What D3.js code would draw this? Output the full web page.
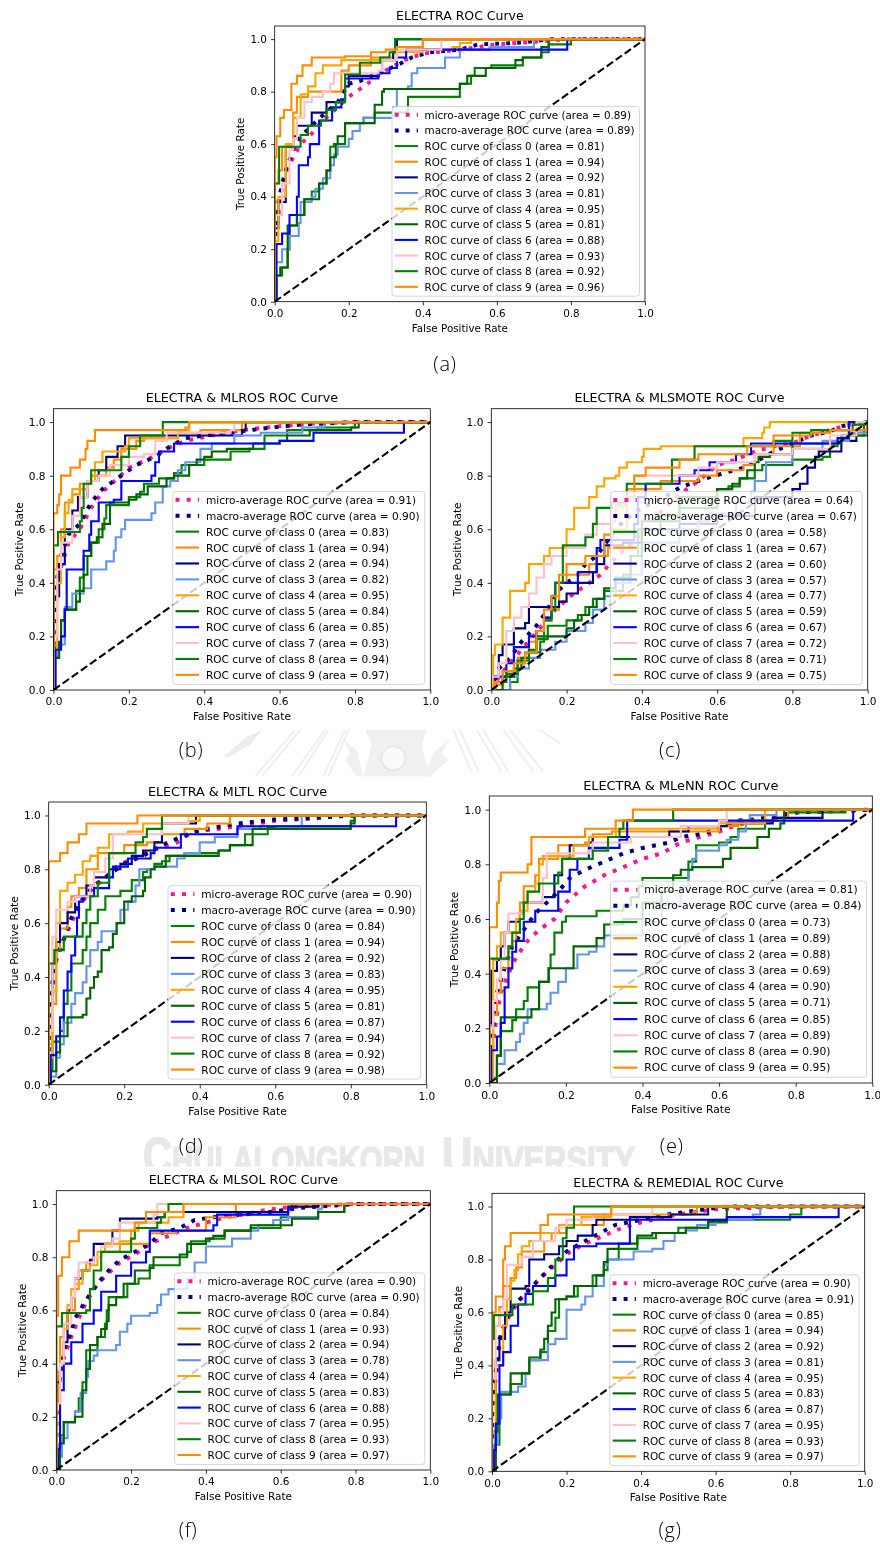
<!DOCTYPE html>
<html><head><meta charset="utf-8">
<script src="https://cdn.jsdelivr.net/npm/d3@7"></script>
<style>html,body{margin:0;padding:0;background:#fff}svg{display:block}</style>
</head><body><div id="c"></div>
<script>
const panelTitles=["ELECTRA ROC Curve","ELECTRA & MLROS ROC Curve","ELECTRA & MLSMOTE ROC Curve","ELECTRA & MLTL ROC Curve","ELECTRA & MLeNN ROC Curve","ELECTRA & MLSOL ROC Curve","ELECTRA & REMEDIAL ROC Curve"];
const panelLabels=["(a)","(b)","(c)","(d)","(e)","(f)","(g)"];
const seriesNames=["micro-average ROC curve","macro-average ROC curve","ROC curve of class 0","ROC curve of class 1","ROC curve of class 2","ROC curve of class 3","ROC curve of class 4","ROC curve of class 5","ROC curve of class 6","ROC curve of class 7","ROC curve of class 8","ROC curve of class 9"];
const seriesColors=["deeppink","navy","green","darkorange","navy","cornflowerblue","orange","darkgreen","blue","pink","green","darkorange"];
const areasA=[.89,.89,.81,.94,.92,.81,.95,.81,.88,.93,.92,.96];
const areasB=[.91,.90,.83,.94,.94,.82,.95,.84,.85,.93,.94,.97];
const areasC=[.64,.67,.58,.67,.60,.57,.77,.59,.67,.72,.71,.75];
const areasD=[.90,.90,.84,.94,.92,.83,.95,.81,.87,.94,.92,.98];
const areasE=[.81,.84,.73,.89,.88,.69,.90,.71,.85,.89,.90,.95];
const areasF=[.90,.90,.84,.93,.94,.78,.94,.83,.88,.95,.93,.97];
const areasG=[.90,.91,.85,.94,.92,.81,.95,.83,.87,.95,.93,.97];
const tickValues=[0,.2,.4,.6,.8,1];

const rocA=[
[[0,.2],[.01,.33],[.02,.44],[.03,.49],[.05,.55],[.07,.6],[.1,.64],[.13,.69],[.17,.74],[.2,.78],[.25,.83],[.3,.88],[.35,.92],[.4,.945],[.5,.96],[.6,.98],[.7,.99],[.8,1]],
[[0,.25],[.01,.38],[.02,.45],[.03,.5],[.05,.58],[.07,.63],[.1,.67],[.13,.71],[.17,.76],[.2,.83],[.23,.84],[.28,.87],[.33,.9],[.37,.93],[.42,.95],[.5,.96],[.55,.98],[.65,.985],[.75,1]],
[[.005,.1],[.02,.13],[.035,.2],[.04,.29],[.06,.33],[.08,.39],[.1,.42],[.12,.45],[.14,.5],[.15,.59],[.16,.6],[.19,.68],[.24,.7],[.27,.72],[.34,.72],[.36,.78],[.5,.78],[.5,.83],[.53,.86],[.54,.89],[.585,.9],[.67,.93],[.72,.95],[.74,.98],[.8,1]],
[[0,.45],[.01,.5],[.02,.59],[.05,.72],[.06,.78],[.09,.8],[.18,.88],[.2,.9],[.26,.93],[.32,.95],[.33,.97],[.4,1]],
[[0,.28],[.01,.38],[.03,.59],[.05,.63],[.06,.67],[.1,.72],[.14,.76],[.18,.77],[.19,.82],[.2,.86],[.28,.87],[.29,.92],[.32,.95],[.33,1]],
[[0,.15],[.02,.2],[.04,.25],[.065,.3],[.07,.38],[.1,.4],[.11,.43],[.13,.47],[.15,.52],[.16,.56],[.17,.59],[.2,.62],[.21,.65],[.23,.68],[.24,.7],[.32,.74],[.33,.81],[.36,.82],[.37,.87],[.385,.89],[.46,.93],[.5,.96],[.58,.97],[.7,1]],
[[0,.23],[.01,.4],[.03,.6],[.05,.7],[.07,.79],[.09,.82],[.11,.87],[.13,.9],[.18,.92],[.33,.95],[.4,.96],[.48,.97],[.5,.985],[.53,1]],
[[0,.1],[.015,.13],[.035,.2],[.035,.29],[.06,.33],[.08,.39],[.11,.39],[.12,.45],[.14,.5],[.15,.55],[.165,.6],[.17,.63],[.19,.68],[.27,.7],[.27,.75],[.29,.8],[.295,.81],[.5,.83],[.52,.86],[.57,.89],[.65,.92],[.67,.93],[.72,.97],[.74,1]],
[[.005,.22],[.02,.26],[.04,.33],[.06,.4],[.065,.52],[.09,.55],[.095,.6],[.12,.69],[.155,.74],[.18,.77],[.19,.85],[.28,.87],[.31,.89],[.33,.93],[.355,.96],[.79,1]],
[[0,.33],[.02,.45],[.04,.58],[.05,.62],[.06,.7],[.08,.76],[.1,.78],[.13,.8],[.15,.83],[.16,.87],[.28,.88],[.29,.92],[.33,.96],[.45,1]],
[[0,.45],[.012,.59],[.07,.635],[.09,.67],[.125,.69],[.14,.73],[.165,.76],[.19,.865],[.23,.91],[.285,.93],[.31,.95],[.325,1]],
[[0,.55],[.005,.63],[.015,.7],[.025,.73],[.045,.83],[.06,.86],[.075,.9],[.1,.93],[.19,.935],[.26,.95],[.3,.96],[.33,.97],[.4,1]]
];
const rocB=[
[[0,.2],[.01,.38],[.02,.46],[.04,.55],[.07,.6],[.1,.68],[.13,.74],[.17,.79],[.2,.83],[.25,.86],[.3,.9],[.35,.93],[.42,.95],[.5,.97],[.6,.985],[.7,.995],[.8,1]],
[[0,.25],[.01,.42],[.02,.5],[.04,.58],[.07,.62],[.1,.7],[.13,.75],[.17,.79],[.22,.84],[.27,.87],[.31,.91],[.35,.94],[.4,.95],[.47,.96],[.55,.975],[.65,.99],[.8,1]],
[[.005,.16],[.02,.26],[.03,.3],[.06,.37],[.07,.42],[.08,.5],[.1,.55],[.12,.6],[.135,.64],[.14,.69],[.2,.72],[.23,.74],[.24,.77],[.28,.79],[.32,.81],[.34,.84],[.4,.86],[.47,.89],[.52,.9],[.56,.95],[.62,.97],[.7,.98],[.8,1]],
[[0,.45],[.01,.5],[.02,.6],[.03,.7],[.05,.73],[.07,.77],[.1,.8],[.14,.83],[.16,.86],[.18,.9],[.22,.93],[.24,.94],[.33,.96],[.39,.97],[.5,1]],
[[0,.35],[.015,.47],[.03,.6],[.05,.67],[.065,.72],[.09,.78],[.12,.82],[.14,.87],[.17,.91],[.19,.95],[.3,.95],[.5,.97],[.51,1]],
[[.005,.12],[.01,.17],[.03,.31],[.05,.36],[.08,.38],[.1,.45],[.14,.48],[.16,.52],[.165,.57],[.18,.6],[.19,.635],[.26,.66],[.27,.7],[.29,.76],[.31,.78],[.33,.82],[.35,.85],[.39,.9],[.42,.92],[.48,.95],[.55,.96],[.66,.98],[.72,1]],
[[0,.15],[.01,.4],[.02,.57],[.03,.66],[.04,.71],[.05,.75],[.09,.78],[.11,.85],[.13,.89],[.19,.91],[.2,.94],[.33,.97],[.36,1]],
[[0,.12],[.015,.18],[.02,.26],[.03,.3],[.06,.33],[.07,.37],[.08,.43],[.09,.5],[.1,.55],[.115,.57],[.13,.62],[.15,.7],[.2,.71],[.22,.73],[.25,.76],[.3,.79],[.32,.8],[.36,.84],[.38,.86],[.4,.87],[.42,.89],[.46,.9],[.53,.92],[.6,.93],[.62,.95],[.68,.97],[.79,.98],[.81,1]],
[[.005,.15],[.02,.2],[.03,.3],[.035,.45],[.08,.52],[.095,.58],[.1,.63],[.12,.7],[.16,.71],[.18,.78],[.26,.8],[.27,.85],[.28,.89],[.32,.92],[.6,.93],[.69,.96],[.93,1]],
[[0,.2],[.01,.45],[.02,.55],[.05,.65],[.07,.72],[.09,.78],[.12,.8],[.15,.84],[.2,.87],[.24,.88],[.27,.93],[.3,.96],[.47,.97],[.48,1]],
[[0,.54],[.012,.59],[.07,.63],[.075,.68],[.08,.77],[.1,.82],[.18,.87],[.2,.91],[.23,.95],[.29,1]],
[[0,.66],[.01,.69],[.015,.73],[.02,.8],[.045,.83],[.07,.86],[.085,.9],[.09,.93],[.11,.97],[.35,.98],[.36,1]]
];
const rocC=[
[[.02,.05],[.05,.1],[.08,.15],[.11,.2],[.14,.25],[.17,.3],[.21,.35],[.25,.39],[.29,.43],[.32,.48],[.36,.53],[.41,.6],[.46,.68],[.5,.73],[.55,.78],[.6,.84],[.65,.86],[.7,.89],[.75,.91],[.8,.92],[.85,.95],[.9,.97],[.95,.99]],
[[.02,.08],[.05,.12],[.08,.18],[.12,.24],[.15,.3],[.17,.36],[.2,.4],[.23,.43],[.25,.47],[.28,.5],[.3,.54],[.33,.6],[.36,.64],[.4,.68],[.46,.72],[.5,.755],[.53,.77],[.57,.79],[.62,.81],[.67,.83],[.7,.85],[.75,.89],[.8,.92],[.85,.95],[.9,.965],[.93,.985]],
[[.05,.03],[.07,.1],[.09,.14],[.12,.19],[.15,.24],[.2,.26],[.23,.28],[.25,.31],[.27,.34],[.3,.37],[.33,.37],[.35,.43],[.37,.5],[.39,.6],[.45,.65],[.5,.68],[.6,.75],[.63,.76],[.66,.79],[.7,.82],[.72,.84],[.8,.86],[.88,.87],[.9,.91],[.92,.93],[.95,.95],[.99,1]],
[[.01,.02],[.03,.07],[.07,.12],[.1,.18],[.12,.22],[.14,.26],[.16,.3],[.18,.4],[.2,.43],[.26,.47],[.28,.5],[.31,.53],[.32,.63],[.33,.69],[.36,.75],[.45,.78],[.55,.8],[.6,.82],[.67,.84],[.7,.88],[.75,.91],[.82,.96],[.9,.97],[.95,1]],
[[.01,.05],[.02,.13],[.03,.17],[.06,.23],[.09,.25],[.1,.31],[.15,.31],[.18,.33],[.2,.36],[.23,.4],[.27,.44],[.28,.47],[.3,.54],[.35,.55],[.4,.6],[.5,.62],[.6,.65],[.7,.72],[.8,.75],[.82,.77],[.84,.83],[.86,.87],[.87,.89],[.93,.93],[.97,.97]],
[[.05,.05],[.07,.08],[.1,.12],[.13,.15],[.17,.18],[.2,.22],[.25,.25],[.27,.3],[.3,.35],[.33,.4],[.37,.43],[.4,.55],[.5,.6],[.55,.63],[.58,.66],[.65,.7],[.69,.74],[.7,.78],[.73,.85],[.8,.9],[.88,.93],[.95,.96]],
[[.005,.13],[.01,.17],[.03,.27],[.05,.37],[.09,.4],[.1,.47],[.14,.5],[.155,.53],[.2,.6],[.22,.68],[.26,.72],[.28,.76],[.3,.79],[.33,.8],[.34,.83],[.36,.85],[.4,.87],[.405,.9],[.45,.91],[.67,.94],[.72,.96],[.725,.98],[.74,1]],
[[.02,0],[.03,.05],[.06,.08],[.08,.12],[.1,.15],[.12,.2],[.2,.23],[.22,.26],[.24,.28],[.26,.31],[.28,.34],[.3,.38],[.33,.42],[.37,.5],[.4,.63],[.5,.72],[.6,.75],[.64,.77],[.66,.79],[.68,.82],[.7,.85],[.71,.87],[.74,.88],[.8,.92],[.93,.95]],
[[.01,.05],[.04,.1],[.06,.16],[.1,.2],[.12,.22],[.14,.27],[.16,.35],[.17,.4],[.23,.44],[.28,.53],[.29,.56],[.38,.62],[.39,.72],[.41,.77],[.5,.8],[.54,.82],[.58,.85],[.65,.88],[.69,.92],[.92,.94],[.95,1]],
[[0,.05],[.02,.1],[.04,.22],[.06,.27],[.08,.31],[.1,.36],[.12,.42],[.14,.47],[.16,.5],[.2,.53],[.25,.58],[.28,.62],[.32,.68],[.35,.74],[.38,.8],[.55,.83],[.6,.85],[.7,.88],[.8,.9],[.9,.95],[.97,1]],
[[.01,.03],[.04,.06],[.07,.11],[.1,.14],[.13,.18],[.14,.26],[.16,.3],[.17,.4],[.19,.54],[.25,.57],[.27,.62],[.28,.68],[.32,.7],[.36,.77],[.48,.86],[.54,.91],[.7,.91],[.75,.93],[.8,.96],[.85,.97],[.96,.99]],
[[.01,.03],[.03,.07],[.06,.1],[.09,.14],[.12,.22],[.14,.3],[.16,.35],[.18,.43],[.2,.47],[.25,.5],[.3,.58],[.32,.6],[.36,.72],[.38,.8],[.41,.83],[.5,.86],[.55,.88],[.68,.91],[.75,.95],[.85,.96],[.9,.97]]
];
const rocD=[
[[0,.2],[.01,.35],[.02,.46],[.04,.54],[.06,.6],[.08,.66],[.11,.72],[.15,.77],[.18,.81],[.22,.84],[.27,.87],[.3,.88],[.34,.9],[.38,.94],[.45,.95],[.5,.96],[.6,.98],[.7,.99],[.8,1]],
[[0,.25],[.01,.38],[.02,.47],[.04,.54],[.06,.62],[.09,.69],[.12,.74],[.16,.78],[.2,.82],[.25,.85],[.3,.89],[.35,.92],[.4,.945],[.5,.97],[.6,.985],[.7,.99],[.8,1]],
[[.005,.05],[.01,.16],[.03,.2],[.04,.3],[.05,.35],[.06,.45],[.09,.5],[.1,.55],[.11,.6],[.13,.65],[.15,.7],[.19,.72],[.22,.76],[.25,.79],[.26,.8],[.28,.82],[.3,.83],[.32,.85],[.36,.86],[.45,.87],[.48,.89],[.52,.93],[.58,.955],[.6,.96],[.8,.98],[.81,1]],
[[0,.15],[.01,.3],[.02,.5],[.03,.58],[.05,.66],[.06,.7],[.08,.73],[.1,.8],[.13,.86],[.2,.89],[.26,.9],[.3,.93],[.36,.95],[.42,.97],[.48,1]],
[[0,.3],[.01,.45],[.02,.53],[.03,.6],[.05,.64],[.07,.7],[.1,.74],[.12,.77],[.16,.8],[.19,.82],[.22,.85],[.25,.87],[.28,.9],[.3,.97],[.39,1]],
[[.005,.03],[.02,.1],[.03,.15],[.04,.23],[.06,.3],[.07,.34],[.09,.38],[.1,.44],[.11,.5],[.13,.53],[.14,.57],[.18,.6],[.19,.65],[.21,.68],[.23,.74],[.24,.8],[.28,.81],[.34,.84],[.36,.86],[.4,.9],[.44,.92],[.5,.95],[.56,.96],[.67,1]],
[[0,.1],[.01,.35],[.02,.6],[.03,.72],[.05,.75],[.07,.78],[.09,.83],[.11,.85],[.13,.88],[.16,.93],[.21,.94],[.25,.97],[.37,.98],[.4,1]],
[[.005,.05],[.02,.12],[.03,.18],[.05,.25],[.09,.26],[.1,.32],[.11,.36],[.12,.4],[.13,.42],[.14,.5],[.16,.51],[.17,.56],[.18,.6],[.2,.68],[.22,.7],[.25,.72],[.255,.77],[.27,.8],[.28,.81],[.31,.85],[.45,.87],[.48,.89],[.54,.95],[.8,.97],[.81,1]],
[[.005,.11],[.02,.18],[.03,.25],[.04,.35],[.05,.42],[.06,.48],[.07,.55],[.075,.62],[.08,.68],[.09,.7],[.12,.73],[.16,.77],[.17,.81],[.21,.84],[.27,.86],[.28,.88],[.35,.93],[.5,.96],[.92,1]],
[[0,.2],[.01,.55],[.02,.65],[.05,.68],[.07,.7],[.11,.74],[.12,.79],[.15,.84],[.17,.93],[.3,.97],[.37,1]],
[[0,.45],[.015,.5],[.04,.55],[.09,.6],[.1,.65],[.11,.7],[.13,.75],[.16,.86],[.23,.9],[.25,.92],[.26,.95],[.3,1]],
[[0,.83],[.03,.86],[.05,.9],[.08,.93],[.1,.97],[.235,1]]
];
const rocE=[
[[0,.05],[.01,.15],[.02,.25],[.03,.33],[.05,.4],[.07,.46],[.1,.52],[.13,.56],[.17,.6],[.2,.66],[.25,.72],[.3,.76],[.35,.79],[.4,.82],[.45,.84],[.5,.88],[.55,.9],[.6,.92],[.65,.945],[.7,.96],[.8,.99]],
[[0,.1],[.01,.2],[.02,.33],[.04,.42],[.06,.5],[.09,.56],[.12,.62],[.15,.66],[.18,.7],[.21,.75],[.25,.78],[.3,.81],[.35,.84],[.4,.86],[.47,.88],[.5,.9],[.55,.91],[.6,.93],[.65,.96],[.7,.965],[.8,.99]],
[[.01,0],[.02,.1],[.03,.19],[.06,.23],[.07,.27],[.09,.3],[.1,.35],[.13,.37],[.155,.42],[.16,.47],[.17,.55],[.19,.59],[.2,.61],[.28,.63],[.35,.65],[.37,.68],[.39,.72],[.4,.75],[.48,.75],[.52,.81],[.54,.87],[.6,.88],[.63,.9],[.65,.93],[.72,.96],[.75,.97],[.78,.99],[.93,1]],
[[.005,.1],[.01,.25],[.02,.33],[.03,.42],[.05,.5],[.06,.52],[.07,.55],[.08,.66],[.09,.72],[.12,.76],[.13,.82],[.18,.87],[.25,.88],[.27,.91],[.32,.92],[.6,.94],[.65,.96],[.75,.97],[.78,1]],
[[0,.22],[.005,.41],[.02,.45],[.03,.5],[.04,.55],[.05,.59],[.08,.62],[.09,.66],[.14,.68],[.17,.76],[.19,.82],[.21,.87],[.26,.88],[.27,.9],[.47,.92],[.52,.94],[.62,.95],[.74,.97],[.87,1]],
[[.01,.02],[.02,.07],[.04,.12],[.07,.15],[.08,.18],[.09,.22],[.1,.27],[.15,.29],[.16,.33],[.18,.37],[.2,.42],[.23,.47],[.26,.48],[.28,.5],[.3,.54],[.4,.59],[.45,.65],[.5,.72],[.52,.78],[.53,.82],[.54,.85],[.6,.87],[.62,.89],[.65,.92],[.67,.95],[.68,.98],[.75,1]],
[[.01,.45],[.02,.5],[.03,.55],[.07,.6],[.08,.63],[.1,.7],[.12,.73],[.13,.8],[.14,.83],[.22,.87],[.26,.9],[.33,.93],[.6,.95],[.72,1]],
[[.02,.1],[.03,.24],[.09,.24],[.11,.27],[.13,.37],[.155,.42],[.22,.5],[.28,.53],[.3,.58],[.35,.6],[.4,.66],[.45,.7],[.48,.76],[.5,.78],[.53,.79],[.6,.79],[.61,.82],[.63,.86],[.66,.86],[.7,.9],[.73,.93],[.76,.95],[.77,1]],
[[.005,.12],[.02,.17],[.03,.22],[.04,.35],[.05,.42],[.06,.48],[.07,.52],[.09,.59],[.12,.63],[.18,.7],[.21,.78],[.23,.82],[.26,.86],[.34,.89],[.36,.96],[.95,1]],
[[0,.2],[.01,.3],[.02,.38],[.03,.45],[.04,.55],[.05,.62],[.09,.66],[.14,.75],[.15,.84],[.26,.85],[.27,.88],[.37,.9],[.5,.94],[.6,.96],[.62,1]],
[[0,.455],[.05,.5],[.06,.55],[.08,.6],[.09,.66],[.1,.7],[.13,.73],[.18,.77],[.19,.82],[.27,.85],[.31,.9],[.34,.93],[.35,.96],[.48,1]],
[[0,.57],[.02,.66],[.025,.74],[.03,.77],[.1,.8],[.11,.9],[.25,.93],[.33,.96],[.375,1]]
];
const rocF=[
[[0,.2],[.01,.35],[.02,.42],[.04,.5],[.06,.57],[.08,.63],[.11,.7],[.14,.74],[.17,.78],[.21,.81],[.25,.85],[.3,.88],[.35,.91],[.4,.93],[.45,.95],[.5,.96],[.55,.975],[.6,.985],[.7,.995],[.8,1]],
[[0,.25],[.01,.36],[.02,.45],[.04,.52],[.05,.57],[.08,.64],[.11,.7],[.14,.75],[.17,.79],[.21,.82],[.25,.85],[.28,.89],[.33,.91],[.37,.94],[.42,.95],[.5,.96],[.57,.97],[.65,.985],[.7,.99],[.8,1]],
[[.005,.05],[.01,.13],[.02,.18],[.05,.22],[.06,.27],[.07,.33],[.08,.45],[.11,.5],[.13,.55],[.135,.6],[.14,.65],[.19,.7],[.22,.72],[.25,.77],[.33,.8],[.35,.82],[.36,.86],[.41,.87],[.45,.9],[.52,.91],[.6,.95],[.7,.97],[.77,1]],
[[0,.25],[.005,.37],[.01,.5],[.02,.55],[.03,.6],[.05,.68],[.06,.75],[.08,.78],[.1,.8],[.12,.82],[.17,.85],[.25,.89],[.32,.9],[.4,.95],[.48,1]],
[[0,.33],[.01,.42],[.02,.48],[.03,.6],[.04,.65],[.05,.72],[.07,.75],[.09,.79],[.1,.85],[.15,.9],[.17,.945],[.27,.95],[.29,.97],[.62,.99],[.7,1]],
[[.005,.05],[.015,.12],[.03,.18],[.05,.22],[.065,.29],[.08,.35],[.085,.41],[.1,.43],[.11,.45],[.16,.47],[.17,.52],[.19,.55],[.2,.58],[.25,.59],[.27,.62],[.28,.66],[.3,.68],[.35,.72],[.37,.78],[.4,.84],[.47,.87],[.52,.9],[.54,.92],[.58,.94],[.62,.95],[.7,.98],[.71,1]],
[[0,.1],[.01,.43],[.02,.53],[.03,.62],[.04,.68],[.05,.7],[.07,.75],[.09,.77],[.11,.82],[.13,.85],[.17,.86],[.2,.9],[.22,.93],[.3,.95],[.34,1]],
[[.01,.1],[.02,.18],[.05,.2],[.07,.3],[.08,.38],[.09,.47],[.11,.5],[.12,.53],[.135,.56],[.14,.62],[.16,.65],[.18,.7],[.21,.75],[.25,.76],[.26,.8],[.33,.81],[.35,.85],[.4,.87],[.42,.88],[.45,.9],[.52,.92],[.63,.945],[.7,.97],[.77,1]],
[[.005,.08],[.01,.3],[.02,.4],[.04,.48],[.07,.55],[.1,.6],[.12,.67],[.16,.73],[.2,.78],[.24,.82],[.25,.9],[.42,.92],[.43,.96],[.62,.98],[.63,1]],
[[0,.25],[.01,.4],[.02,.55],[.04,.65],[.05,.72],[.06,.78],[.1,.8],[.12,.84],[.15,.87],[.17,.93],[.26,.96],[.27,1]],
[[0,.54],[.015,.59],[.08,.6],[.09,.68],[.1,.75],[.12,.82],[.2,.87],[.21,.91],[.27,.93],[.28,.95],[.29,.97],[.3,1]],
[[0,.58],[.005,.73],[.015,.8],[.035,.86],[.06,.9],[.2,.9],[.21,.93],[.24,.97],[.34,1]]
];
const rocG=[
[[0,.2],[.01,.35],[.02,.47],[.04,.57],[.07,.64],[.1,.69],[.13,.73],[.17,.78],[.21,.83],[.25,.86],[.3,.89],[.35,.92],[.4,.94],[.45,.955],[.5,.97],[.6,.99],[.7,.995],[.8,1]],
[[0,.25],[.01,.38],[.02,.5],[.04,.58],[.06,.63],[.09,.67],[.13,.73],[.17,.79],[.2,.83],[.25,.87],[.29,.9],[.33,.93],[.4,.95],[.47,.97],[.55,.985],[.63,1]],
[[.01,.1],[.02,.29],[.05,.33],[.08,.37],[.1,.42],[.13,.45],[.15,.53],[.17,.58],[.18,.65],[.2,.66],[.23,.7],[.27,.74],[.3,.76],[.31,.8],[.34,.84],[.39,.88],[.44,.9],[.5,.92],[.58,.94],[.63,.95],[.8,.97],[.83,1]],
[[0,.55],[.02,.62],[.03,.7],[.05,.73],[.065,.77],[.08,.83],[.14,.87],[.16,.9],[.2,.93],[.3,.97],[.54,.98],[.55,1]],
[[0,.3],[.01,.42],[.02,.5],[.035,.6],[.05,.69],[.09,.7],[.1,.8],[.14,.82],[.18,.85],[.2,.87],[.23,.89],[.27,.93],[.28,.95],[.37,.96],[.48,.97],[.58,1]],
[[.005,.1],[.015,.2],[.025,.3],[.07,.32],[.09,.37],[.1,.42],[.15,.48],[.17,.5],[.2,.61],[.24,.63],[.25,.66],[.27,.7],[.3,.78],[.31,.8],[.38,.83],[.43,.84],[.46,.87],[.49,.9],[.52,.91],[.55,.93],[.6,.95],[.7,.97],[.72,1]],
[[0,.15],[.01,.4],[.03,.55],[.04,.65],[.05,.72],[.06,.76],[.07,.82],[.08,.85],[.1,.87],[.13,.9],[.18,.93],[.24,.96],[.32,1]],
[[.01,.15],[.015,.29],[.05,.37],[.1,.43],[.13,.46],[.14,.5],[.15,.55],[.16,.6],[.17,.65],[.2,.66],[.22,.7],[.28,.74],[.3,.79],[.31,.84],[.34,.86],[.39,.89],[.43,.9],[.52,.92],[.58,.945],[.63,1]],
[[.005,.08],[.01,.18],[.02,.4],[.03,.45],[.05,.55],[.07,.63],[.09,.67],[.11,.7],[.17,.74],[.2,.8],[.22,.85],[.28,.86],[.37,.95],[.63,.96],[.93,1]],
[[0,.35],[.01,.55],[.02,.6],[.03,.65],[.04,.78],[.08,.81],[.11,.87],[.17,.92],[.2,.95],[.27,.97],[.43,1]],
[[0,.5],[.005,.59],[.055,.63],[.1,.63],[.11,.68],[.15,.73],[.17,.8],[.19,.88],[.2,.92],[.22,1]],
[[0,.6],[.01,.66],[.03,.8],[.035,.85],[.05,.9],[.13,.93],[.15,.97],[.32,1]]
];
const panelRoc=[rocA,rocB,rocC,rocD,rocE,rocF,rocG];
const panelAreas=[areasA,areasB,areasC,areasD,areasE,areasF,areasG];

// page layout: axes frame in pixels, caption anchor
const frames=[[274.7,645,26,301.7,445,363],[53.5,430.3,408.7,690,191,749],[491.3,867.7,408.7,690,670,749],[48.7,426.3,802,1084.7,191,1145],[489.3,872.3,796,1083,671.7,1145],[56.3,430.3,1190.7,1470,188,1529],[492,864.7,1193.3,1471.3,670,1529]];

const W=880,H=1544;
const svg=d3.select("#c").append("svg").attr("width",W).attr("height",H).attr("viewBox",`0 0 ${W} ${H}`);
const defs=svg.append("defs");
defs.append("filter").attr("id","soft").attr("filterUnits","userSpaceOnUse").attr("x",0).attr("y",0).attr("width",W).attr("height",H)
  .append("feGaussianBlur").attr("stdDeviation",0.55);
const root=svg.append("g").attr("filter","url(#soft)");
root.append("rect").attr("width",W).attr("height",H).attr("fill","#fff");

// faded thesis watermark behind the figures
const wmColor="#e8e8e8", FONT="'DejaVu Sans',sans-serif", WM="'Liberation Sans',Arial,sans-serif";
defs.append("clipPath").attr("id","wmClipA").append("rect").attr("x",215).attr("y",730).attr("width",460).attr("height",46.5);
defs.append("clipPath").attr("id","wmClipB").append("rect").attr("x",130).attr("y",1130).attr("width",540).attr("height",36.5);
const crest=root.append("g").attr("clip-path","url(#wmClipA)").attr("fill","none").attr("stroke","#efefef");
const z=(x,y)=>[200+x/3,720+y/3];
const zl=d3.line().x(d=>z(d[0],d[1])[0]).y(d=>z(d[0],d[1])[1]);
[[[165,170],[285,30]],[[185,170],[300,30]],[[275,170],[375,30]],[[295,170],[385,30]],[[370,170],[435,30]],[[385,170],[445,30]],
 [[760,30],[815,155]],[[780,30],[835,155]],[[830,30],[905,155]],[[850,30],[925,155]],[[910,30],[1000,155]],[[930,30],[1030,155]],[[1020,30],[1080,70]]]
 .forEach(p=>crest.append("path").attr("d",zl(p)).attr("stroke-width",2));
crest.append("path").attr("d",zl([[70,110],[140,50],[185,30],[150,75],[85,112],[70,110]])).attr("fill","#ececec").attr("stroke","none");
crest.append("path").attr("d",zl([[495,30],[680,30],[665,75],[690,170],[490,170],[515,75],[495,30]])).attr("fill","#f0f0f0").attr("stroke","none");
crest.append("circle").attr("cx",z(580,115)[0]).attr("cy",z(580,115)[1]).attr("r",12).attr("fill","#fafafa").attr("stroke",wmColor).attr("stroke-width",2);
crest.append("path").attr("d",zl([[430,60],[450,100],[435,120],[470,170],[490,170],[470,90],[430,60]])).attr("fill","#f0f0f0").attr("stroke","none");
crest.append("path").attr("d",zl([[750,55],[725,100],[745,120],[690,170],[670,170],[700,100],[750,55]])).attr("fill","#f0f0f0").attr("stroke","none");
const wm=root.append("g").attr("clip-path","url(#wmClipB)").attr("fill",wmColor).attr("stroke",wmColor).attr("stroke-width",1.6).attr("font-family",WM).attr("font-weight","bold");
function wmWord(big,small,x,len){
  const t=wm.append("text").attr("x",x).attr("y",1174).attr("textLength",len).attr("lengthAdjust","spacingAndGlyphs");
  t.append("tspan").attr("font-size",52).text(big);
  t.append("tspan").attr("font-size",38).text(small);
}
wmWord("C","HULALONGKORN",143,282);
wmWord("U","NIVERSITY",442,193);

panelTitles.forEach((title,pi)=>{
  const [l,r,t,b]=frames[pi];
  const s=(r-l)/496, fs=13.9*s;
  const x=d3.scaleLinear().domain([0,1]).range([l,r]);
  const y=d3.scaleLinear().domain([0,1.05]).range([b,t]);
  const g=root.append("g").attr("class","panel");
  g.append("rect").attr("x",l-40).attr("y",t-22).attr("width",r-l+46).attr("height",b-t+56).attr("fill","#fff");
  const cid="clip"+pi;
  defs.append("clipPath").attr("id",cid).append("rect").attr("x",l).attr("y",t).attr("width",r-l).attr("height",b-t);
  const plot=g.append("g").attr("clip-path",`url(#${cid})`);
  const lw=2.78*s, dotW=5.2*s, dotGap=9.5*s;
  const stepLine=d3.line().x(d=>x(d[0])).y(d=>y(d[1])).curve(d3.curveStepAfter);
  const avgLine=d3.line().x(d=>x(d[0])).y(d=>y(d[1]));
  panelRoc[pi].forEach((pts,i)=>{
    const data=[[0,0],...pts,[1,1]];
    const p=plot.append("path").attr("fill","none").attr("stroke",seriesColors[i]);
    if(i<2) p.attr("d",avgLine(data)).attr("stroke-width",dotW).attr("stroke-dasharray",`${dotW} ${dotGap}`);
    else p.attr("d",stepLine(data)).attr("stroke-width",lw).attr("stroke-linejoin","miter");
  });
  plot.append("path").attr("d",avgLine([[0,0],[1,1]])).attr("fill","none").attr("stroke","#000").attr("stroke-width",lw).attr("stroke-dasharray",`${lw*3.7} ${lw*1.6}`);

  // legend
  const names=seriesNames.map((n,i)=>`${n} (area = ${panelAreas[pi][i].toFixed(2)})`);
  const rowH=20.95*s, padTop=11.1*s, padBot=12.5*s, hLen=31*s, hGap=9*s, padL=3.7*s, padR=6.7*s;
  const lg=g.append("g");
  const box=lg.append("rect").attr("rx",3).attr("ry",3).attr("fill","#fff").attr("fill-opacity",.8).attr("stroke","#ccc").attr("stroke-width",.8);
  const texts=lg.selectAll("text").data(names).join("text").attr("font-family",FONT).attr("font-size",fs).attr("fill","#000").text(d=>d);
  const maxW=d3.max(texts.nodes(),n=>n.getComputedTextLength());
  const bw=padL+hLen+hGap+maxW+padR, bh=rowH*11+padTop+padBot;
  const bx=r-7.4*s-bw, by=b-7.4*s-bh;
  box.attr("x",bx).attr("y",by).attr("width",bw).attr("height",bh);
  texts.attr("x",bx+padL+hLen+hGap).attr("y",(d,i)=>by+padTop+i*rowH).attr("dominant-baseline","central");
  names.forEach((n,i)=>{
    const ly=by+padTop+i*rowH;
    const hl=lg.append("line").attr("x1",bx+padL).attr("x2",bx+padL+hLen).attr("y1",ly).attr("y2",ly).attr("stroke",seriesColors[i]);
    if(i<2) hl.attr("stroke-width",dotW).attr("stroke-dasharray",`${dotW} ${dotGap}`);
    else hl.attr("stroke-width",lw);
  });

  // frame & axes
  g.append("rect").attr("x",l).attr("y",t).attr("width",r-l).attr("height",b-t).attr("fill","none").attr("stroke","#000").attr("stroke-width",.8);
  const tl=4.86*s;
  const ax=g.append("g").attr("transform",`translate(0,${b})`).call(d3.axisBottom(x).tickValues(tickValues).tickSize(tl).tickPadding(5.6*s).tickFormat(d3.format(".1f")));
  const ay=g.append("g").attr("transform",`translate(${l},0)`).call(d3.axisLeft(y).tickValues(tickValues).tickSize(tl).tickPadding(5.6*s).tickFormat(d3.format(".1f")));
  [ax,ay].forEach(a=>{a.select(".domain").remove();a.selectAll("text").attr("font-family",FONT).attr("font-size",fs).attr("fill","#000");a.selectAll("line").attr("stroke","#000").attr("stroke-width",.8);});
  g.append("text").attr("x",(l+r)/2).attr("y",t-11).attr("text-anchor","middle").attr("dominant-baseline","central").attr("font-family",FONT).attr("font-size",16.7*s).attr("fill","#000").text(title);
  g.append("text").attr("x",(l+r)/2).attr("y",b+26).attr("text-anchor","middle").attr("dominant-baseline","central").attr("font-family",FONT).attr("font-size",fs).attr("fill","#000").text("False Positive Rate");
  g.append("text").attr("transform",`translate(${l-34.5},${(t+b)/2}) rotate(-90)`).attr("text-anchor","middle").attr("dominant-baseline","central").attr("font-family",FONT).attr("font-size",fs).attr("fill","#000").text("True Positive Rate");
});
// captions sit above the white panel backings
panelLabels.forEach((lab,pi)=>{
  root.append("text").attr("x",frames[pi][4]).attr("y",frames[pi][5]).attr("text-anchor","middle").attr("dominant-baseline","central").attr("font-family","'Open Sans',sans-serif").attr("font-weight",300).attr("font-size",20).attr("letter-spacing",.6).attr("fill","#000").text(lab);
});
</script></body></html>
